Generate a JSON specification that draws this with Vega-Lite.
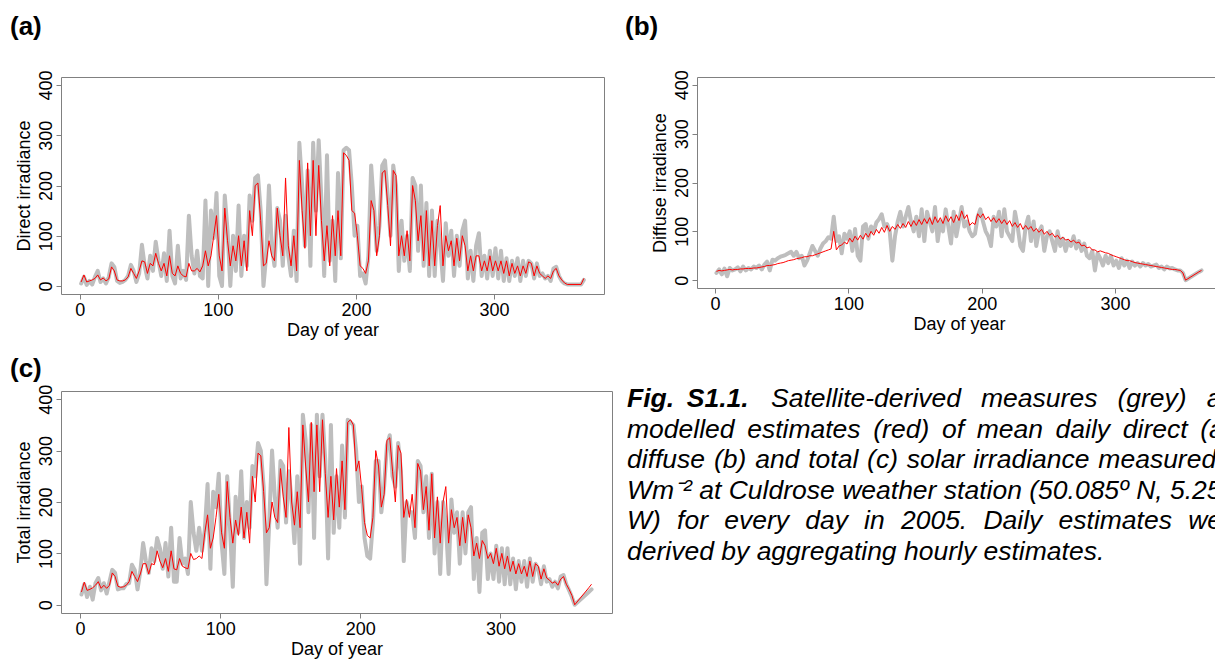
{
"$schema": "https://vega.github.io/schema/vega-lite/v6.json",
"background": "white",
"padding": {"left": 9, "top": 13, "right": 0, "bottom": 0},
"config": {
 "font": "Liberation Sans",
 "view": {"stroke": "#808080", "strokeWidth": 1},
 "axis": {"domain": false, "grid": false, "tickColor": "#808080", "tickSize": 5, "labelFontSize": 18, "labelColor": "#000", "titleFontSize": 18, "titleFontWeight": "normal", "titleColor": "#000", "labelFont": "Liberation Sans", "titleFont": "Liberation Sans", "labelOverlap": false, "labelFlush": false},
 "axisY": {"labelAngle": 270, "labelAlign": "center", "labelBaseline": "bottom", "labelPadding": 1, "titlePadding": 4},
 "axisX": {"labelPadding": 2, "titlePadding": 2},
 "title": {"fontSize": 26, "fontWeight": "bold", "anchor": "start", "color": "#000", "font": "Liberation Sans", "baseline": "alphabetic", "offset": 30}
},
"data": {"values": [
{"d":1,"a":5,"A":8,"b":15,"B":18,"c":20,"C":25},
{"d":3,"a":18,"A":22,"b":22,"B":20,"c":40,"C":44},
{"d":5,"a":2,"A":8,"b":12,"B":19,"c":15,"C":28},
{"d":7,"a":10,"A":10,"b":24,"B":20,"c":35,"C":30},
{"d":9,"a":3,"A":12,"b":8,"B":21,"c":10,"C":33},
{"d":11,"a":18,"A":15,"b":25,"B":22,"c":42,"C":38},
{"d":13,"a":30,"A":22,"b":20,"B":21,"c":52,"C":45},
{"d":15,"a":8,"A":12,"b":22,"B":22,"c":28,"C":32},
{"d":17,"a":15,"A":16,"b":26,"B":22,"c":42,"C":38},
{"d":19,"a":5,"A":10,"b":18,"B":23,"c":22,"C":32},
{"d":21,"a":18,"A":14,"b":28,"B":23,"c":45,"C":38},
{"d":23,"a":45,"A":38,"b":20,"B":24,"c":68,"C":62},
{"d":25,"a":38,"A":30,"b":25,"B":24,"c":62,"C":55},
{"d":27,"a":10,"A":12,"b":22,"B":24,"c":30,"C":36},
{"d":29,"a":6,"A":10,"b":28,"B":25,"c":32,"C":34},
{"d":31,"a":8,"A":10,"b":25,"B":25,"c":32,"C":35},
{"d":33,"a":12,"A":12,"b":30,"B":26,"c":40,"C":38},
{"d":35,"a":20,"A":18,"b":22,"B":27,"c":42,"C":45},
{"d":37,"a":42,"A":35,"b":32,"B":28,"c":78,"C":65},
{"d":39,"a":30,"A":25,"b":38,"B":30,"c":68,"C":55},
{"d":41,"a":8,"A":15,"b":20,"B":30,"c":30,"C":45},
{"d":43,"a":25,"A":30,"b":42,"B":31,"c":65,"C":60},
{"d":45,"a":82,"A":50,"b":40,"B":32,"c":120,"C":80},
{"d":47,"a":40,"A":48,"b":45,"B":34,"c":85,"C":80},
{"d":49,"a":15,"A":25,"b":48,"B":35,"c":62,"C":60},
{"d":51,"a":60,"A":45,"b":50,"B":36,"c":110,"C":80},
{"d":53,"a":30,"A":40,"b":52,"B":38,"c":85,"C":78},
{"d":55,"a":88,"A":65,"b":55,"B":40,"c":130,"C":105},
{"d":57,"a":50,"A":45,"b":58,"B":41,"c":110,"C":85},
{"d":59,"a":20,"A":30,"b":50,"B":42,"c":70,"C":72},
{"d":61,"a":65,"A":45,"b":58,"B":44,"c":120,"C":90},
{"d":63,"a":10,"A":20,"b":45,"B":45,"c":55,"C":65},
{"d":65,"a":110,"A":60,"b":50,"B":46,"c":150,"C":105},
{"d":67,"a":20,"A":25,"b":30,"B":48,"c":45,"C":70},
{"d":69,"a":5,"A":20,"b":40,"B":48,"c":45,"C":68},
{"d":71,"a":80,"A":40,"b":55,"B":50,"c":130,"C":90},
{"d":73,"a":15,"A":25,"b":70,"B":50,"c":80,"C":75},
{"d":75,"a":30,"A":20,"b":60,"B":52,"c":90,"C":72},
{"d":77,"a":12,"A":18,"b":50,"B":54,"c":60,"C":70},
{"d":79,"a":140,"A":45,"b":65,"B":56,"c":200,"C":100},
{"d":81,"a":60,"A":30,"b":75,"B":58,"c":140,"C":88},
{"d":83,"a":25,"A":30,"b":80,"B":60,"c":105,"C":90},
{"d":85,"a":70,"A":35,"b":88,"B":62,"c":150,"C":95},
{"d":87,"a":20,"A":28,"b":85,"B":64,"c":105,"C":90},
{"d":89,"a":15,"A":40,"b":130,"B":100,"c":145,"C":140},
{"d":91,"a":170,"A":70,"b":80,"B":62,"c":235,"C":175},
{"d":93,"a":0,"A":40,"b":90,"B":70,"c":70,"C":110},
{"d":95,"a":150,"A":60,"b":55,"B":72,"c":220,"C":130},
{"d":97,"a":95,"A":100,"b":95,"B":78,"c":190,"C":170},
{"d":99,"a":185,"A":140,"b":85,"B":74,"c":255,"C":215},
{"d":101,"a":20,"A":60,"b":100,"B":86,"c":120,"C":140},
{"d":103,"a":0,"A":30,"b":60,"B":78,"c":60,"C":110},
{"d":105,"a":180,"A":155,"b":105,"B":90,"c":250,"C":240},
{"d":107,"a":110,"A":90,"b":50,"B":82,"c":150,"C":170},
{"d":109,"a":0,"A":40,"b":40,"B":92,"c":35,"C":120},
{"d":111,"a":100,"A":80,"b":110,"B":84,"c":210,"C":165},
{"d":113,"a":30,"A":50,"b":115,"B":96,"c":140,"C":135},
{"d":115,"a":160,"A":100,"b":85,"B":88,"c":260,"C":190},
{"d":117,"a":20,"A":40,"b":110,"B":100,"c":130,"C":130},
{"d":119,"a":100,"A":90,"b":100,"B":92,"c":200,"C":180},
{"d":121,"a":40,"A":30,"b":118,"B":104,"c":150,"C":120},
{"d":123,"a":180,"A":150,"b":125,"B":96,"c":270,"C":250},
{"d":125,"a":130,"A":100,"b":135,"B":108,"c":250,"C":200},
{"d":127,"a":215,"A":200,"b":110,"B":98,"c":315,"C":295},
{"d":129,"a":220,"A":205,"b":115,"B":112,"c":300,"C":290},
{"d":131,"a":150,"A":130,"b":100,"B":100,"c":230,"C":220},
{"d":133,"a":0,"A":40,"b":40,"B":110,"c":40,"C":140},
{"d":135,"a":60,"A":45,"b":90,"B":104,"c":160,"C":150},
{"d":137,"a":200,"A":90,"b":120,"B":114,"c":300,"C":200},
{"d":139,"a":80,"A":60,"b":140,"B":106,"c":210,"C":170},
{"d":141,"a":40,"A":50,"b":110,"B":116,"c":150,"C":160},
{"d":143,"a":155,"A":155,"b":130,"B":108,"c":280,"C":265},
{"d":145,"a":130,"A":100,"b":150,"B":120,"c":270,"C":210},
{"d":147,"a":40,"A":60,"b":120,"B":110,"c":160,"C":170},
{"d":149,"a":140,"A":215,"b":100,"B":122,"c":260,"C":345},
{"d":151,"a":60,"A":80,"b":130,"B":112,"c":200,"C":200},
{"d":153,"a":20,"A":40,"b":90,"B":124,"c":120,"C":155},
{"d":155,"a":110,"A":100,"b":145,"B":114,"c":250,"C":220},
{"d":157,"a":10,"A":30,"b":80,"B":126,"c":80,"C":150},
{"d":159,"a":285,"A":250,"b":140,"B":116,"c":370,"C":350},
{"d":161,"a":200,"A":150,"b":120,"B":128,"c":320,"C":270},
{"d":163,"a":80,"A":75,"b":100,"B":114,"c":180,"C":200},
{"d":165,"a":230,"A":245,"b":150,"B":130,"c":350,"C":355},
{"d":167,"a":40,"A":100,"b":80,"B":118,"c":130,"C":220},
{"d":169,"a":285,"A":250,"b":120,"B":128,"c":370,"C":350},
{"d":171,"a":150,"A":100,"b":100,"B":116,"c":250,"C":220},
{"d":173,"a":290,"A":240,"b":145,"B":132,"c":370,"C":360},
{"d":175,"a":170,"A":130,"b":110,"B":120,"c":280,"C":255},
{"d":177,"a":20,"A":50,"b":75,"B":130,"c":90,"C":170},
{"d":179,"a":260,"A":120,"b":140,"B":118,"c":350,"C":250},
{"d":181,"a":50,"A":40,"b":90,"B":134,"c":140,"C":165},
{"d":183,"a":130,"A":140,"b":120,"B":122,"c":250,"C":265},
{"d":185,"a":10,"A":60,"b":150,"B":142,"c":150,"C":190},
{"d":187,"a":225,"A":150,"b":110,"B":126,"c":310,"C":280},
{"d":189,"a":55,"A":60,"b":120,"B":134,"c":170,"C":185},
{"d":191,"a":270,"A":265,"b":100,"B":112,"c":360,"C":355},
{"d":193,"a":275,"A":260,"b":90,"B":118,"c":355,"C":360},
{"d":195,"a":270,"A":250,"b":95,"B":114,"c":350,"C":350},
{"d":197,"a":200,"A":150,"b":130,"B":136,"c":300,"C":260},
{"d":199,"a":100,"A":145,"b":145,"B":128,"c":200,"C":280},
{"d":201,"a":120,"A":100,"b":120,"B":136,"c":230,"C":225},
{"d":203,"a":20,"A":40,"b":100,"B":124,"c":130,"C":160},
{"d":205,"a":25,"A":35,"b":90,"B":130,"c":95,"C":135},
{"d":207,"a":5,"A":25,"b":70,"B":120,"c":90,"C":130},
{"d":209,"a":60,"A":50,"b":130,"B":128,"c":160,"C":170},
{"d":211,"a":240,"A":170,"b":110,"B":118,"c":280,"C":300},
{"d":213,"a":160,"A":150,"b":140,"B":126,"c":280,"C":270},
{"d":215,"a":70,"A":60,"b":90,"B":116,"c":180,"C":190},
{"d":217,"a":120,"A":100,"b":145,"B":124,"c":230,"C":215},
{"d":219,"a":240,"A":225,"b":100,"B":114,"c":310,"C":320},
{"d":221,"a":250,"A":230,"b":90,"B":122,"c":330,"C":325},
{"d":223,"a":180,"A":160,"b":80,"B":110,"c":250,"C":260},
{"d":225,"a":100,"A":80,"b":140,"B":118,"c":230,"C":200},
{"d":227,"a":240,"A":230,"b":110,"B":108,"c":315,"C":310},
{"d":229,"a":200,"A":220,"b":70,"B":116,"c":260,"C":295},
{"d":231,"a":30,"A":60,"b":60,"B":104,"c":85,"C":170},
{"d":233,"a":130,"A":100,"b":110,"B":112,"c":200,"C":205},
{"d":235,"a":50,"A":60,"b":130,"B":104,"c":180,"C":170},
{"d":237,"a":100,"A":110,"b":80,"B":110,"c":180,"C":215},
{"d":239,"a":30,"A":50,"b":120,"B":100,"c":130,"C":150},
{"d":241,"a":215,"A":200,"b":70,"B":106,"c":280,"C":275},
{"d":243,"a":200,"A":170,"b":100,"B":98,"c":270,"C":260},
{"d":245,"a":70,"A":90,"b":110,"B":104,"c":180,"C":185},
{"d":247,"a":200,"A":140,"b":60,"B":94,"c":250,"C":230},
{"d":249,"a":40,"A":50,"b":90,"B":100,"c":130,"C":145},
{"d":251,"a":165,"A":150,"b":100,"B":92,"c":255,"C":255},
{"d":253,"a":20,"A":40,"b":80,"B":96,"c":100,"C":130},
{"d":255,"a":150,"A":130,"b":60,"B":88,"c":200,"C":210},
{"d":257,"a":20,"A":40,"b":100,"B":92,"c":60,"C":120},
{"d":259,"a":130,"A":120,"b":70,"B":84,"c":200,"C":200},
{"d":261,"a":80,"A":160,"b":85,"B":88,"c":160,"C":230},
{"d":263,"a":10,"A":40,"b":60,"B":82,"c":60,"C":120},
{"d":265,"a":125,"A":100,"b":80,"B":84,"c":205,"C":185},
{"d":267,"a":60,"A":70,"b":70,"B":78,"c":140,"C":150},
{"d":269,"a":110,"A":90,"b":90,"B":82,"c":180,"C":170},
{"d":271,"a":20,"A":40,"b":65,"B":76,"c":80,"C":115},
{"d":273,"a":100,"A":95,"b":80,"B":78,"c":180,"C":170},
{"d":275,"a":40,"A":50,"b":60,"B":70,"c":100,"C":120},
{"d":277,"a":110,"A":100,"b":75,"B":72,"c":180,"C":175},
{"d":279,"a":130,"A":80,"b":50,"B":66,"c":190,"C":150},
{"d":281,"a":15,"A":30,"b":45,"B":68,"c":50,"C":95},
{"d":283,"a":70,"A":60,"b":60,"B":62,"c":130,"C":120},
{"d":285,"a":10,"A":30,"b":20,"B":62,"c":25,"C":90},
{"d":287,"a":80,"A":60,"b":55,"B":58,"c":140,"C":125},
{"d":289,"a":105,"A":60,"b":45,"B":60,"c":145,"C":115},
{"d":291,"a":20,"A":30,"b":30,"B":58,"c":50,"C":90},
{"d":293,"a":60,"A":50,"b":50,"B":56,"c":100,"C":100},
{"d":295,"a":15,"A":30,"b":35,"B":55,"c":50,"C":80},
{"d":297,"a":70,"A":60,"b":50,"B":52,"c":115,"C":110},
{"d":299,"a":20,"A":30,"b":30,"B":50,"c":45,"C":75},
{"d":301,"a":75,"A":50,"b":40,"B":48,"c":110,"C":100},
{"d":303,"a":15,"A":30,"b":25,"B":46,"c":40,"C":70},
{"d":305,"a":70,"A":50,"b":45,"B":44,"c":110,"C":95},
{"d":307,"a":10,"A":25,"b":30,"B":42,"c":40,"C":65},
{"d":309,"a":55,"A":50,"b":40,"B":40,"c":90,"C":85},
{"d":311,"a":10,"A":20,"b":25,"B":40,"c":30,"C":60},
{"d":313,"a":50,"A":45,"b":38,"B":38,"c":85,"C":80},
{"d":315,"a":20,"A":25,"b":30,"B":36,"c":45,"C":60},
{"d":317,"a":55,"A":40,"b":35,"B":35,"c":85,"C":75},
{"d":319,"a":10,"A":20,"b":28,"B":34,"c":35,"C":55},
{"d":321,"a":50,"A":40,"b":35,"B":33,"c":90,"C":85},
{"d":323,"a":20,"A":25,"b":30,"B":32,"c":45,"C":55},
{"d":325,"a":50,"A":48,"b":33,"B":31,"c":80,"C":80},
{"d":327,"a":45,"A":45,"b":28,"B":30,"c":70,"C":75},
{"d":329,"a":15,"A":20,"b":30,"B":29,"c":40,"C":50},
{"d":331,"a":45,"A":40,"b":32,"B":28,"c":75,"C":70},
{"d":333,"a":20,"A":25,"b":25,"B":27,"c":45,"C":52},
{"d":335,"a":25,"A":20,"b":28,"B":26,"c":50,"C":48},
{"d":337,"a":15,"A":15,"b":22,"B":25,"c":35,"C":42},
{"d":339,"a":20,"A":20,"b":28,"B":24,"c":45,"C":45},
{"d":341,"a":10,"A":15,"b":24,"B":23,"c":32,"C":38},
{"d":343,"a":35,"A":30,"b":25,"B":22,"c":55,"C":50},
{"d":345,"a":38,"A":35,"b":22,"B":22,"c":58,"C":55},
{"d":347,"a":20,"A":20,"b":20,"B":21,"c":40,"C":40},
{"d":349,"a":10,"A":12,"b":20,"B":20,"c":28,"C":30},
{"d":351,"a":5,"A":6,"b":15,"B":15,"c":15,"C":18},
{"d":353,"a":3,"A":3,"b":0,"B":0,"c":0,"C":0},
{"d":363,"a":3,"A":3,"b":17,"B":17,"c":25,"C":33},
{"d":365,"a":12,"A":15,"b":20,"B":20,"c":30,"C":40}
]},
"spacing": 15,
"vconcat": [
 {"spacing": 19, "hconcat": [
  {"width": 543, "height": 217,
   "title": {"text": "(a)", "dx": -5},
   "layer": [
    {"mark": {"type": "line", "color": "#bebebe", "strokeWidth": 4, "strokeJoin": "round", "strokeCap": "round"},
     "encoding": {
      "x": {"field": "d", "type": "quantitative", "scale": {"domain": [-13.6, 379.6], "nice": false, "zero": false}, "axis": {"values": [0, 100, 200, 300], "title": "Day of year"}},
      "y": {"field": "a", "type": "quantitative", "scale": {"domain": [-16, 416], "nice": false, "zero": false}, "axis": {"values": [0, 100, 200, 300, 400], "title": "Direct irradiance"}}}},
    {"mark": {"type": "line", "color": "#ff0000", "strokeWidth": 1, "strokeJoin": "round"},
     "encoding": {
      "x": {"field": "d", "type": "quantitative"},
      "y": {"field": "A", "type": "quantitative"}}}
   ]},
  {"width": 524, "height": 211,
   "title": {"text": "(b)", "dx": -26},
   "layer": [
    {"mark": {"type": "line", "color": "#bebebe", "strokeWidth": 4, "strokeJoin": "round", "strokeCap": "round"},
     "encoding": {
      "x": {"field": "d", "type": "quantitative", "scale": {"domain": [-13.6, 379.6], "nice": false, "zero": false}, "axis": {"values": [0, 100, 200, 300], "title": "Day of year"}},
      "y": {"field": "b", "type": "quantitative", "scale": {"domain": [-16, 416], "nice": false, "zero": false}, "axis": {"values": [0, 100, 200, 300, 400], "title": "Diffuse irradiance"}}}},
    {"mark": {"type": "line", "color": "#ff0000", "strokeWidth": 1, "strokeJoin": "round"},
     "encoding": {
      "x": {"field": "d", "type": "quantitative"},
      "y": {"field": "B", "type": "quantitative"}}}
   ]}
 ]},
 {"spacing": 14, "hconcat": [
  {"width": 551, "height": 222,
   "title": {"text": "(c)", "dx": -5, "offset": 2},
   "layer": [
    {"mark": {"type": "line", "color": "#bebebe", "strokeWidth": 4, "strokeJoin": "round", "strokeCap": "round"},
     "encoding": {
      "x": {"field": "d", "type": "quantitative", "scale": {"domain": [-13.6, 379.6], "nice": false, "zero": false}, "axis": {"values": [0, 100, 200, 300], "title": "Day of year"}},
      "y": {"field": "c", "type": "quantitative", "scale": {"domain": [-16, 416], "nice": false, "zero": false}, "axis": {"values": [0, 100, 200, 300, 400], "title": "Total irradiance"}}}},
    {"mark": {"type": "line", "color": "#ff0000", "strokeWidth": 1, "strokeJoin": "round"},
     "encoding": {
      "x": {"field": "d", "type": "quantitative"},
      "y": {"field": "C", "type": "quantitative"}}}
   ]},
  {"width": 10, "height": 222,
   "view": {"stroke": null},
   "data": {"values": [
    {"ln": 1, "s": 0, "t": "Fig.\u00a0\u2009S1.1."},
    {"ln": 1, "s": 1, "t": "Satellite-derived\u00a0\u00a0\u2009measures\u00a0\u00a0\u2009(grey)\u00a0\u00a0\u2009and"},
    {"ln": 2, "s": 2, "t": "modelled\u00a0\u2009estimates\u00a0\u2009(red)\u00a0\u2009of\u00a0\u2009mean\u00a0\u2009daily\u00a0\u2009direct\u00a0\u2009(a),"},
    {"ln": 3, "s": 2, "t": "diffuse\u2004(b)\u2004and\u2004total\u2004(c)\u2004solar\u2004irradiance\u2004measured\u2004in"},
    {"ln": 4, "s": 2, "t": "Wm\u207b\u00b2 at Culdrose weather station (50.085\u00ba N, 5.255\u00ba"},
    {"ln": 5, "s": 2, "t": "W)\u00a0\u2004for\u00a0\u2004every\u00a0\u2004day\u00a0\u2004in\u00a0\u20042005.\u00a0\u2004Daily\u00a0\u2004estimates\u00a0\u2004were"},
    {"ln": 6, "s": 2, "t": "derived by aggregating hourly estimates."}
   ]},
   "encoding": {
    "y": {"field": "ln", "type": "quantitative", "scale": {"domain": [0.4754, 7.754], "reverse": true}, "axis": null},
    "x": {"value": 0},
    "text": {"field": "t"}
   },
   "layer": [
    {"transform": [{"filter": "datum.s == 0"}],
     "mark": {"type": "text", "align": "left", "baseline": "alphabetic", "font": "Liberation Sans", "fontSize": 26.5, "fontStyle": "italic", "fontWeight": "bold", "color": "#000"}},
    {"transform": [{"filter": "datum.s == 1"}],
     "mark": {"type": "text", "align": "left", "baseline": "alphabetic", "font": "Liberation Sans", "fontSize": 26.5, "fontStyle": "italic", "color": "#000", "dx": 144}},
    {"transform": [{"filter": "datum.s == 2"}],
     "mark": {"type": "text", "align": "left", "baseline": "alphabetic", "font": "Liberation Sans", "fontSize": 26.5, "fontStyle": "italic", "color": "#000"}}
   ]}
 ]}
]
}
